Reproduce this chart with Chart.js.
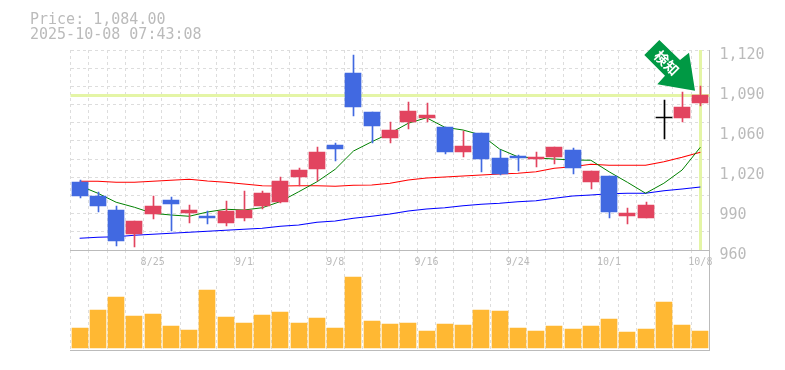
<!DOCTYPE html>
<html>
<head>
<meta charset="utf-8">
<title>Price chart</title>
<script src="https://cdn.jsdelivr.net/npm/chart.js@4/dist/chart.umd.min.js"></script>
<style>
    body { margin: 0; background: #fff; }
    #wrap { position: relative; width: 785px; height: 370px; overflow: hidden; }
    canvas { position: absolute; left: 0; }
    #price-chart { top: 0; }
    #volume-chart { top: 250px; }
    .info { position: absolute; left: 30px; font: 15px/15px "DejaVu Sans Mono", monospace; color: #bbb; white-space: pre; }
</style>
</head>
<body>
<div id="wrap">
    <canvas id="volume-chart" width="785" height="102"></canvas>
    <canvas id="price-chart" width="785" height="275"></canvas>
    <div class="info" style="top: 12px">Price: 1,084.00</div>
    <div class="info" style="top: 27px">2025-10-08 07:43:08</div>
</div>
<script>
// --- Data ---
const dates = ['8/19', '8/20', '8/21', '8/22', '8/25', '8/26', '8/27', '8/28', '8/29', '9/1',
    '9/2', '9/3', '9/4', '9/5', '9/8', '9/9', '9/10', '9/11', '9/12', '9/16',
    '9/17', '9/18', '9/19', '9/22', '9/24', '9/25', '9/26', '9/29', '9/30', '10/1',
    '10/2', '10/3', '10/6', '10/7', '10/8'];
const dateTicks = ['8/25', '9/1', '9/8', '9/16', '9/24', '10/1', '10/8'];

const opens = [1014.4, 1003.2, 992, 972.8, 988.8, 1000, 989.6, 987.2, 981.6, 985.6,
    995.2, 998.4, 1018.4, 1024.8, 1044, 1101.6, 1070.4, 1049.6, 1062.4, 1065.6,
    1058.4, 1038.4, 1053.6, 1033.6, 1035.2, 1032.8, 1034.4, 1040, 1014.4, 1019.2,
    987.2, 985.6, 1066, 1065.6, 1077.6];
const closes = [1003.2, 995.2, 967.2, 983.2, 995.2, 996.8, 992, 985.6, 991.2, 992,
    1005.6, 1015.2, 1024, 1038.4, 1040.8, 1074.4, 1059.2, 1056, 1071.2, 1068,
    1038.4, 1043.2, 1032.8, 1020.8, 1033.6, 1034.4, 1042.4, 1025.6, 1023.2, 990.4,
    989.6, 996, 1066, 1074.4, 1084];
const highs = [1016, 1006.4, 995.2, 983.2, 1003.2, 1002.4, 996, 991.2, 999.2, 1007.2,
    1007.2, 1018.4, 1025.6, 1042.4, 1045.6, 1116, 1070.4, 1062.4, 1078.4, 1077.6,
    1058.4, 1055.2, 1053.6, 1040, 1036, 1038.4, 1042.4, 1041.6, 1023.2, 1019.2,
    993.6, 998.4, 1080, 1086.4, 1091.2];
const lows = [1001.6, 990.4, 963.2, 962.4, 984.8, 975.2, 981.6, 980.8, 979.2, 983.2,
    992.8, 997.6, 1011.2, 1015.2, 1031.2, 1067.2, 1045.6, 1045.6, 1056.8, 1062.4,
    1036.8, 1034.4, 1022.4, 1020, 1023.2, 1026.4, 1028.8, 1020.8, 1008.8, 985.6,
    980.8, 985.6, 1048.8, 1062.4, 1075.2];

const shortAverage = [1011.4, 1005.4, 998.2, 994.2, 989.4, 988, 987, 990.4, 992.6, 992,
    993.8, 998.8, 1006.6, 1014.6, 1024.6, 1039.2, 1046.6, 1053.4, 1061.4, 1065.8,
    1058.2, 1056, 1052, 1040.8, 1034.6, 1033.6, 1032.8, 1032, 1031.8, 1022.6,
    1014.2, 1005.4, 1013.4, 1024, 1042.2];
const midAverage = [1015, 1015, 1014.2, 1014.2, 1015, 1015.8, 1016.6, 1015.2, 1014.2, 1012.8,
    1011.4, 1011.2, 1011.4, 1011.4, 1011, 1011.8, 1012, 1013.4, 1016, 1017.6,
    1018.4, 1019.2, 1020, 1020.8, 1021.4, 1022.6, 1025.4, 1026.6, 1028.6, 1027.8,
    1027.8, 1027.8, 1030.6, 1034.2, 1038.2];
const longAverage = [969.4, 970.2, 970.6, 971.8, 972.6, 973.4, 974.2, 975, 975.8, 976.6,
    977.4, 979, 980, 982.2, 983.2, 985.4, 987, 988.8, 991.2, 992.8,
    993.8, 995.4, 996.6, 997.4, 998.6, 999.4, 1001.4, 1003.2, 1004, 1005,
    1005.4, 1005.4, 1007.4, 1008.8, 1010.4];

const volumes = [60, 114, 153, 96, 102, 66, 54, 174, 93, 75,
    99, 108, 75, 90, 60, 213, 81, 72, 75, 51,
    72, 69, 114, 111, 60, 51, 66, 57, 66, 87,
    48, 57, 138, 69, 51];

const priceMin = 960;
const priceMax = 1120;
const currentPrice = 1084;
const priceTicks = [1120, 1088, 1056, 1024, 992, 960];
const priceTickLabels = ['1,120', '1,090', '1,060', '1,020', '990', '960'];
const gridDivisions = 11;

// --- Colors ---
const UP_COLOR = '#e2445f';
const DOWN_COLOR = '#4169e1';
const FLAT_COLOR = '#000';
const GRID_COLOR = '#ddd';
const AXIS_COLOR = '#bbb';
const MARKER_COLOR = '#e4f5a6';
const VOLUME_COLOR = '#ffb833';
const ARROW_COLOR = '#009944';

const PLOT_LEFT = 70.5;
const AXIS_WIDTH = 75.5;

const candleColors = opens.map((open, i) => {
    if (closes[i] > open) return UP_COLOR;
    if (closes[i] < open) return DOWN_COLOR;
    return FLAT_COLOR;
});

// Snap bars to whole pixels so the bodies and wicks stay crisp
const crispBarsPlugin = {
    id: 'crispBars',
    afterDatasetsUpdate(chart) {
        chart.data.datasets.forEach((dataset, i) => {
            if (dataset.type === 'line') return;
            chart.getDatasetMeta(i).data.forEach(bar => {
                const center = Math.round(bar.x);
                bar.x = dataset.barThickness === 1 ? center + 0.5 : center;
                bar.y = Math.round(bar.y);
                bar.base = Math.round(bar.base);
                bar.height = bar.base - bar.y;
                if (bar.height === 0) bar.base = bar.y + 1;
            });
        });
    }
};

// Yellow cross marking the last price and the last session, under the candles
const priceMarkerPlugin = {
    id: 'priceMarker',
    beforeDatasetsDraw(chart) {
        const { ctx, chartArea, scales } = chart;
        const y = Math.round(scales.y.getPixelForValue(currentPrice)) + 0.5;
        const x = Math.round(scales.x.getPixelForValue(dates.length - 1)) + 0.5;
        ctx.save();
        ctx.strokeStyle = MARKER_COLOR;
        ctx.lineWidth = 3;
        ctx.beginPath();
        ctx.moveTo(chartArea.left, y);
        ctx.lineTo(chartArea.right, y);
        ctx.moveTo(x, chartArea.top);
        ctx.lineTo(x, chartArea.bottom);
        ctx.stroke();
        ctx.restore();
    }
};

// Green arrow badge in the top right corner
const arrowPlugin = {
    id: 'arrowBadge',
    afterDatasetsDraw(chart) {
        const { ctx } = chart;
        const outline = [[659.3, 40], [680, 60], [689, 52.7], [695, 90.7], [657.3, 84.3], [665, 75.7], [644.3, 55]];
        ctx.save();
        ctx.fillStyle = ARROW_COLOR;
        ctx.beginPath();
        outline.forEach(([x, y], i) => (i ? ctx.lineTo(x, y) : ctx.moveTo(x, y)));
        ctx.closePath();
        ctx.fill();
        ctx.translate(666.7, 63);
        ctx.rotate(Math.PI / 4);
        ctx.fillStyle = '#fff';
        ctx.font = 'bold 14px "Noto Sans CJK JP"';
        ctx.textAlign = 'center';
        ctx.textBaseline = 'middle';
        ctx.fillText('検知', 0, 0);
        ctx.restore();
    }
};

function lineDataset(data, color, width) {
    return { type: 'line', data, borderColor: color, borderWidth: width, pointRadius: 0, tension: 0, order: 3 };
}

// --- Price chart ---
new Chart(document.getElementById('price-chart'), {
    data: {
        labels: dates,
        datasets: [
            lineDataset(shortAverage, '#008000', 1),
            lineDataset(midAverage, '#f00', 1.2),
            lineDataset(longAverage, '#00f', 1.2),
            {
                type: 'bar',
                data: lows.map((low, i) => [low, highs[i]]),
                backgroundColor: candleColors,
                barThickness: 1,
                grouped: false,
                order: 2
            },
            {
                type: 'bar',
                data: opens.map((open, i) => [open, closes[i]]),
                backgroundColor: candleColors,
                barThickness: 16,
                minBarLength: 1,
                grouped: false,
                order: 1
            }
        ]
    },
    options: {
        responsive: false,
        animation: false,
        layout: { padding: { top: 50, left: PLOT_LEFT } },
        plugins: { legend: { display: false }, tooltip: { enabled: false } },
        scales: {
            x: {
                offset: true,
                afterFit: (scale) => { scale.height = 25; },
                grid: { color: GRID_COLOR, offset: true, drawTicks: false },
                border: { color: AXIS_COLOR, width: 1, dash: [3, 3] },
                ticks: {
                    color: AXIS_COLOR,
                    font: { family: 'DejaVu Sans Mono', size: 10 },
                    padding: 6,
                    autoSkip: false,
                    maxRotation: 0,
                    callback(value) {
                        const label = this.getLabelForValue(value);
                        return dateTicks.includes(label) ? label : '';
                    }
                }
            },
            y: {
                position: 'left',
                min: priceMin,
                max: priceMax,
                afterBuildTicks: (scale) => {
                    const step = (priceMax - priceMin) / gridDivisions;
                    scale.ticks = Array.from({ length: gridDivisions + 1 }, (_, i) => ({ value: priceMin + step * i }));
                },
                grid: { color: GRID_COLOR, drawTicks: false },
                border: { display: false, dash: [3, 3] },
                ticks: { display: false }
            },
            priceLabels: {
                position: 'right',
                min: priceMin,
                max: priceMax,
                afterBuildTicks: (scale) => { scale.ticks = priceTicks.map(value => ({ value })); },
                afterFit: (scale) => { scale.width = AXIS_WIDTH; },
                grid: { display: false, drawTicks: false },
                border: { color: AXIS_COLOR, width: 1 },
                ticks: {
                    color: AXIS_COLOR,
                    font: { family: 'DejaVu Sans Mono', size: 15 },
                    padding: 10,
                    labelOffset: 5,
                    callback: (value) => priceTickLabels[priceTicks.indexOf(value)]
                }
            }
        }
    },
    plugins: [crispBarsPlugin, priceMarkerPlugin, arrowPlugin]
});

// --- Volume chart ---
new Chart(document.getElementById('volume-chart'), {
    type: 'bar',
    data: {
        labels: dates,
        datasets: [{ data: volumes, backgroundColor: VOLUME_COLOR, barThickness: 16 }]
    },
    options: {
        responsive: false,
        animation: false,
        layout: { padding: { left: PLOT_LEFT, bottom: 2 } },
        plugins: { legend: { display: false }, tooltip: { enabled: false } },
        scales: {
            x: {
                offset: true,
                grid: { color: GRID_COLOR, offset: true, drawTicks: false },
                border: { color: AXIS_COLOR, width: 1, dash: [3, 3] },
                ticks: { display: false }
            },
            y: {
                position: 'right',
                min: -6,
                max: 294,
                afterFit: (scale) => { scale.width = AXIS_WIDTH; },
                grid: { display: false, drawTicks: false },
                border: { color: AXIS_COLOR, width: 1 },
                ticks: { display: false }
            }
        }
    },
    plugins: [crispBarsPlugin]
});
</script>
</body>
</html>
